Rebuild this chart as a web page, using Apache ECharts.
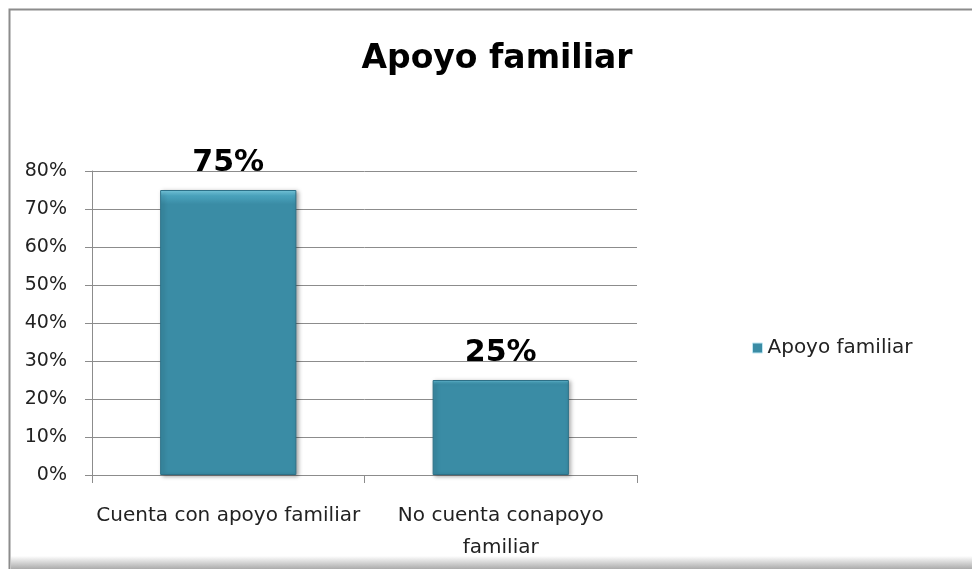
<!DOCTYPE html>
<html>
<head>
<meta charset="utf-8">
<script src="https://cdn.jsdelivr.net/npm/echarts@6/dist/echarts.min.js"></script>
<style>
  html, body { margin: 0; padding: 0; background: #fff; }
  #chart { width: 972px; height: 569px; }
</style>
</head>
<body>
<div id="chart"></div>
<script>
// data
const categories = ["Cuenta con apoyo familiar", "No cuenta conapoyo\nfamiliar"];
const seriesName = "Apoyo familiar";
const values = [75, 25];
const yTicks = [0, 10, 20, 30, 40, 50, 60, 70, 80];

const FONT = "DejaVu Sans";

const chart = echarts.init(document.getElementById("chart"));
chart.setOption({
  backgroundColor: "#fff",
  animation: false,
  title: {
    text: "Apoyo familiar",
    left: 492,
    top: 38,
    textAlign: "center",
    textStyle: { fontFamily: FONT, fontSize: 33, fontWeight: "bold", color: "#000" },
  },
  legend: {
    left: 747,
    top: 333,
    itemWidth: 10,
    itemHeight: 10,
    icon: "rect",
    data: [seriesName],
    itemStyle: { borderColor: "#bfe6f2", borderWidth: 1 },
    textStyle: { fontFamily: FONT, fontSize: 20, color: "#222" },
  },
  grid: { left: 92, top: 171, width: 545, height: 304, containLabel: false },
  xAxis: {
    type: "category",
    data: categories,
    axisLine: { lineStyle: { color: "#8c8c8c", width: 1 } },
    axisTick: { show: true, length: 8, lineStyle: { color: "#8c8c8c" } },
    axisLabel: {
      interval: 0,
      margin: 25,
      lineHeight: 32,
      fontFamily: FONT,
      fontSize: 20,
      color: "#222",
    },
  },
  yAxis: {
    type: "value",
    min: 0,
    max: 80,
    interval: 10,
    axisLine: { show: true, lineStyle: { color: "#8c8c8c" } },
    axisTick: { show: true, length: 7, lineStyle: { color: "#8c8c8c" } },
    splitLine: { lineStyle: { color: "#8c8c8c", width: 1 } },
    axisLabel: {
      margin: 25,
      fontFamily: FONT,
      fontSize: 19,
      color: "#222",
      formatter: (v) => (yTicks.indexOf(v) >= 0 ? v + "%" : ""),
    },
  },
  series: [
    {
      name: seriesName,
      type: "bar",
      data: values,
      barWidth: "50%",
      itemStyle: {
        color: new echarts.graphic.LinearGradient(0, 0, 0, 1, [
          { offset: 0, color: "#7fd4ea" },
          { offset: 0.02, color: "#4aa3bd" },
          { offset: 0.05, color: "#3a8ca5" },
          { offset: 1, color: "#3a8ca5" },
        ]),
        borderColor: "#2d7087",
        borderWidth: 1,
        shadowColor: "rgba(0,0,0,0.35)",
        shadowBlur: 4,
        shadowOffsetX: 2,
        shadowOffsetY: 1,
      },
      label: {
        show: true,
        position: "top",
        distance: 12,
        formatter: "{c}%",
        fontFamily: FONT,
        fontSize: 30,
        fontWeight: "bold",
        color: "#000",
      },
    },
  ],
  graphic: [
    {
      type: "rect",
      shape: { x: 9.5, y: 9.5, width: 1000, height: 600 },
      style: { fill: null, stroke: "#8c8c8c", lineWidth: 2 },
      silent: true,
      z: -1,
    },
    {
      type: "rect",
      shape: { x: 11, y: 556, width: 961, height: 13 },
      style: {
        fill: new echarts.graphic.LinearGradient(0, 0, 0, 1, [
          { offset: 0, color: "rgba(150,150,150,0)" },
          { offset: 1, color: "rgba(150,150,150,0.8)" },
        ]),
      },
      silent: true,
    },
  ],
});
</script>
</body>
</html>
